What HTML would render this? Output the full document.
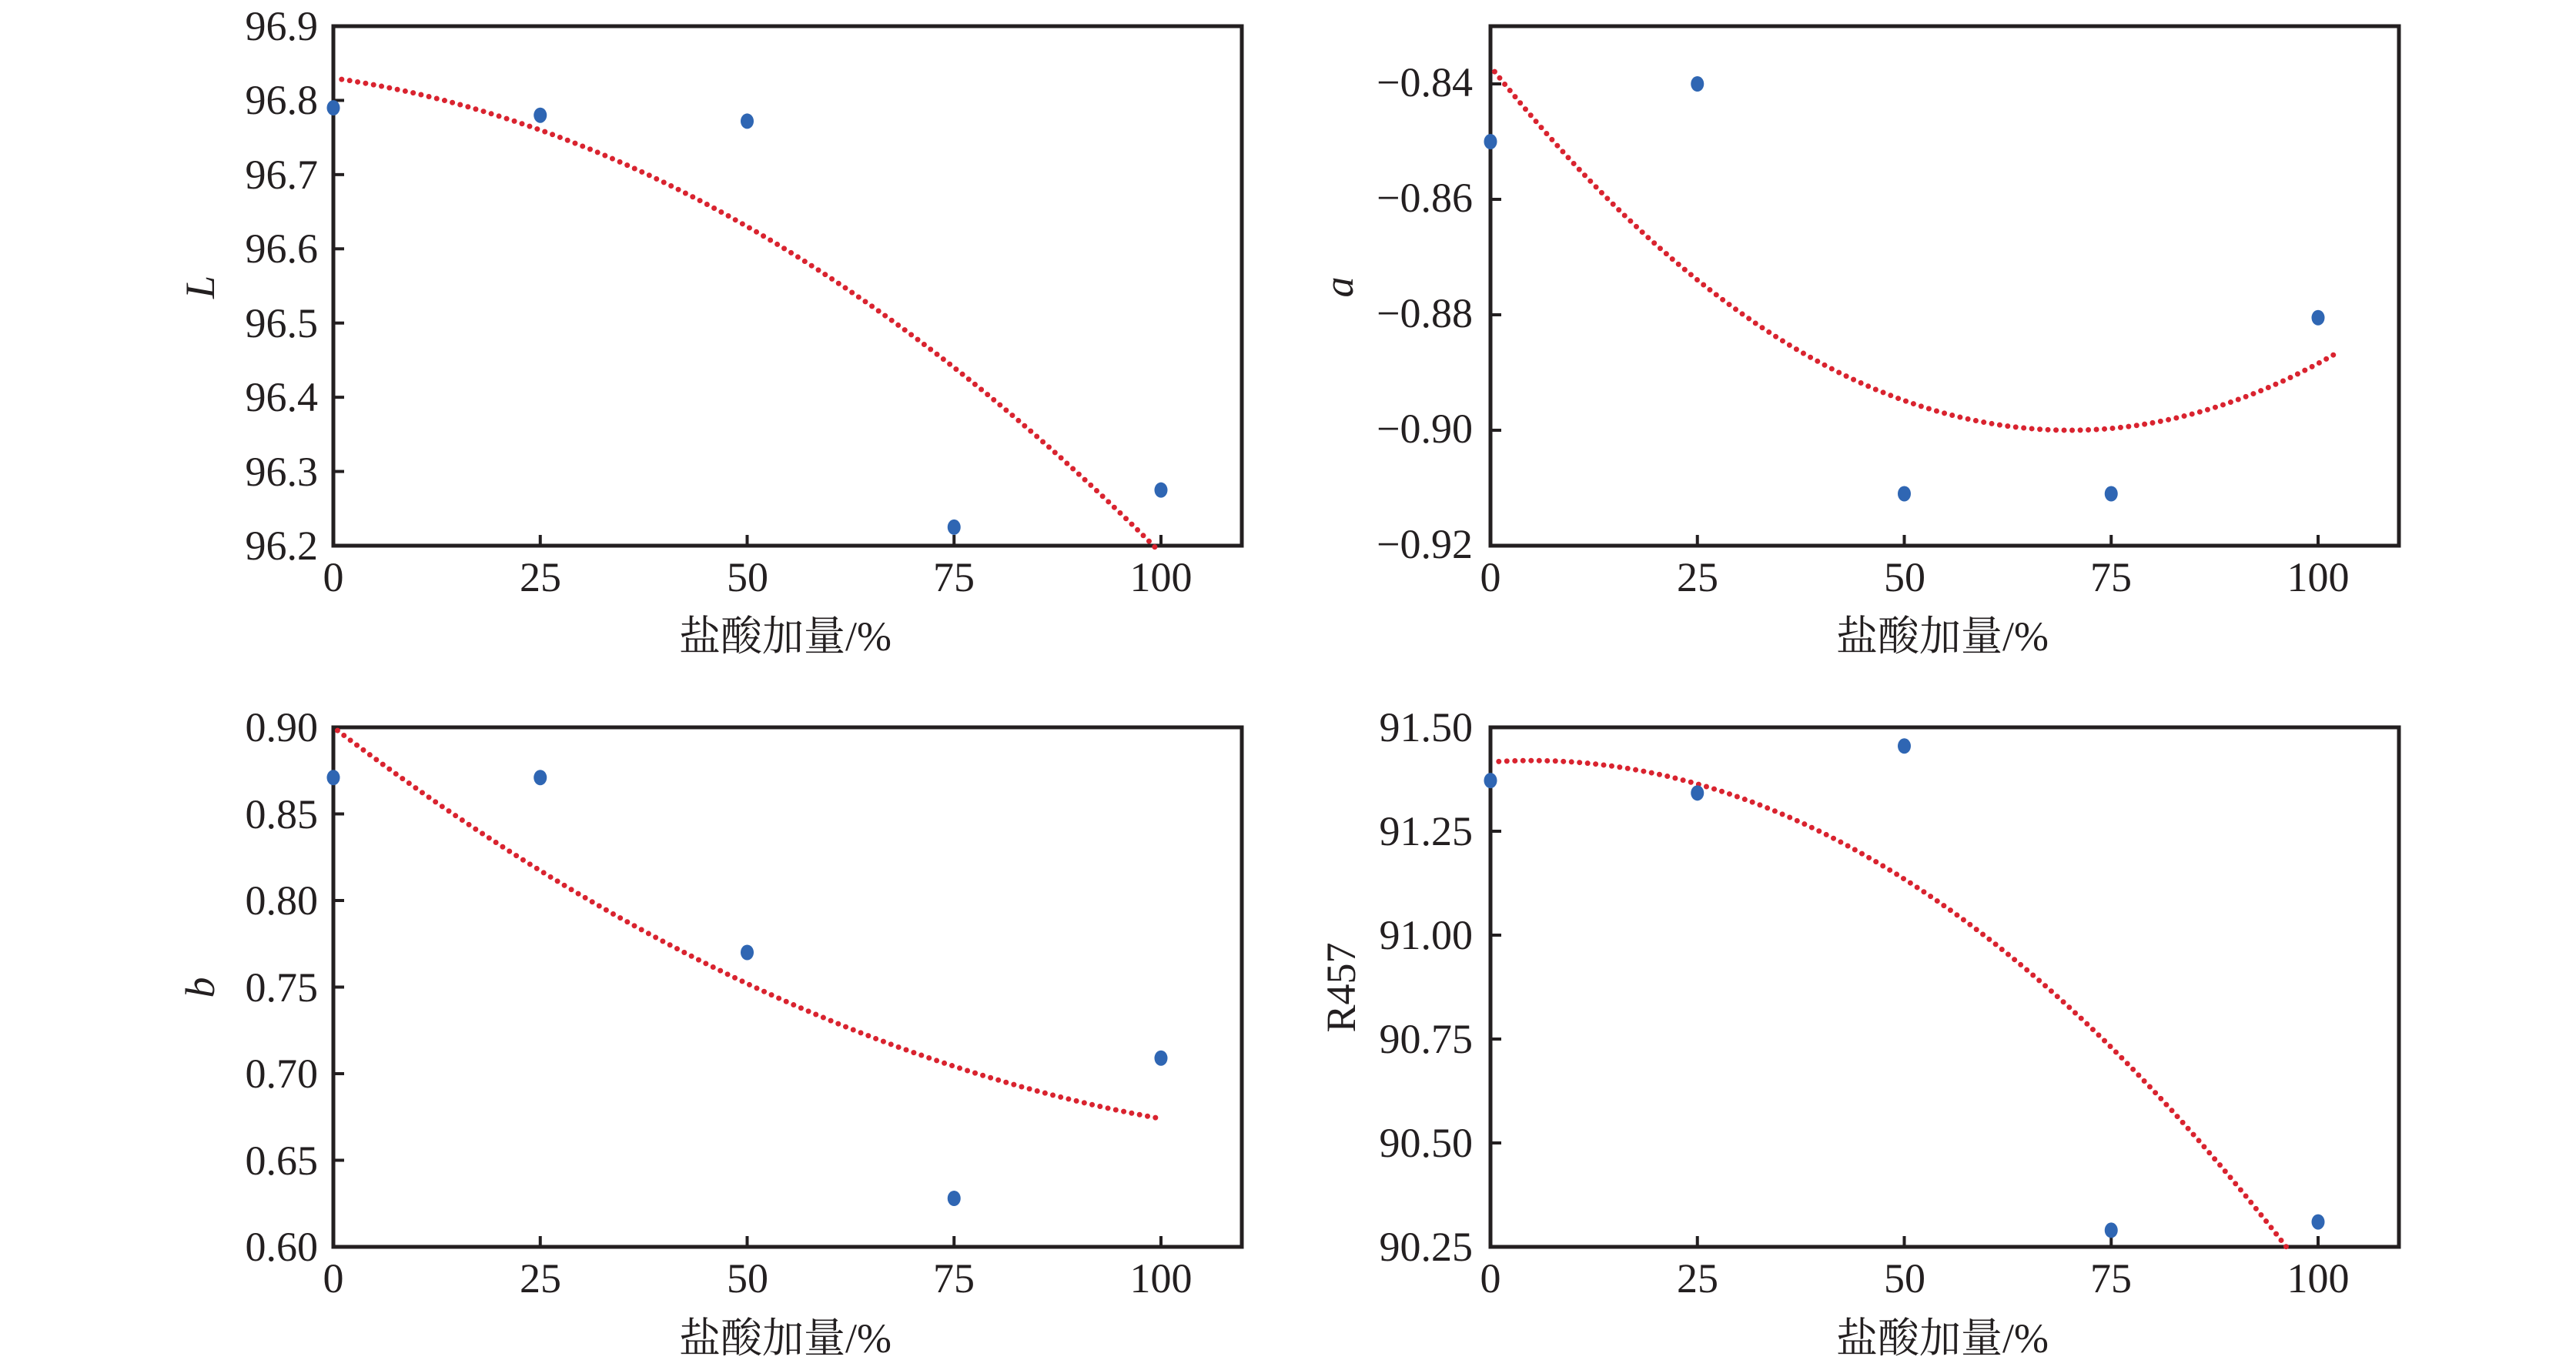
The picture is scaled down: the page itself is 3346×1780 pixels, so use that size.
<!DOCTYPE html>
<html><head><meta charset="utf-8"><style>
html,body{margin:0;padding:0;background:#fff;}
svg{display:block;}
text{font-family:"Liberation Serif","Noto Serif CJK SC",serif;fill:#231f20;}
.t{font-size:54px;}
.ax{font-size:54px;}
</style></head><body>
<svg id="s" width="3346" height="1780" viewBox="0 0 3346 1780" xmlns="http://www.w3.org/2000/svg">
<g fill="none" stroke="#231f20" stroke-width="5">
<rect x="433" y="34" width="1180" height="675"/>
<rect x="1936" y="34" width="1180" height="675"/>
<rect x="433" y="945" width="1180" height="675"/>
<rect x="1936" y="945" width="1180" height="675"/>
</g>
<g id="ticks" stroke="#231f20" stroke-width="4"></g>
<g id="curves" fill="none" stroke="#d9232f" stroke-width="7" stroke-linecap="round" stroke-dasharray="0 10.5"></g>
<g id="pts" fill="#2f66b3"></g>
<g class="t" text-anchor="end">
<text x="413" y="52">96.9</text><text x="413" y="148">96.8</text><text x="413" y="245">96.7</text><text x="413" y="341">96.6</text><text x="413" y="438">96.5</text><text x="413" y="534">96.4</text><text x="413" y="631">96.3</text><text x="413" y="727">96.2</text>
<text x="1913" y="125">−0.84</text><text x="1913" y="275">−0.86</text><text x="1913" y="425">−0.88</text><text x="1913" y="575">−0.90</text><text x="1913" y="725">−0.92</text>
<text x="413" y="963">0.90</text><text x="413" y="1076">0.85</text><text x="413" y="1188">0.80</text><text x="413" y="1301">0.75</text><text x="413" y="1413">0.70</text><text x="413" y="1526">0.65</text><text x="413" y="1638">0.60</text>
<text x="1913" y="963">91.50</text><text x="1913" y="1098">91.25</text><text x="1913" y="1233">91.00</text><text x="1913" y="1368">90.75</text><text x="1913" y="1503">90.50</text><text x="1913" y="1638">90.25</text>
</g>
<g class="t" text-anchor="middle">
<text x="433" y="768">0</text><text x="702" y="768">25</text><text x="971" y="768">50</text><text x="1239" y="768">75</text><text x="1508" y="768">100</text>
<text x="1936" y="768">0</text><text x="2205" y="768">25</text><text x="2474" y="768">50</text><text x="2742" y="768">75</text><text x="3011" y="768">100</text>
<text x="433" y="1679">0</text><text x="702" y="1679">25</text><text x="971" y="1679">50</text><text x="1239" y="1679">75</text><text x="1508" y="1679">100</text>
<text x="1936" y="1679">0</text><text x="2205" y="1679">25</text><text x="2474" y="1679">50</text><text x="2742" y="1679">75</text><text x="3011" y="1679">100</text>
<text x="1020" y="845">盐酸加量/%</text><text x="2523" y="845">盐酸加量/%</text>
<text x="1020" y="1757">盐酸加量/%</text><text x="2523" y="1757">盐酸加量/%</text>
</g>
<text class="ax" font-style="italic" text-anchor="middle" transform="translate(278,373) rotate(-90)">L</text>
<text class="ax" font-style="italic" text-anchor="middle" transform="translate(1757,373) rotate(-90)">a</text>
<text class="ax" font-style="italic" text-anchor="middle" transform="translate(278,1283) rotate(-90)">b</text>
<text class="ax" text-anchor="middle" transform="translate(1760,1283) rotate(-90)">R457</text>
</svg>
<script>
(function(){
var NS="http://www.w3.org/2000/svg";
var P=[
 {x0:433,y0:34,y1:709,top:96.9,bot:96.2,ticks:[96.9,96.8,96.7,96.6,96.5,96.4,96.3,96.2],
  pts:[[0,96.79],[25,96.78],[50,96.772],[75,96.225],[100,96.275]],
  f:function(x){return 96.83-0.0016*x-4.8e-5*x*x;},xa:1,xb:99.5},
 {x0:1936,y0:34,y1:709,top:-0.83,bot:-0.92,ticks:[-0.84,-0.86,-0.88,-0.90,-0.92],
  pts:[[0,-0.85],[25,-0.84],[50,-0.911],[75,-0.911],[100,-0.8805]],
  f:function(x){return -0.9+1.286e-5*(x-70)*(x-70);},xa:0.5,xb:102},
 {x0:433,y0:945,y1:1620,top:0.90,bot:0.60,ticks:[0.9,0.85,0.8,0.75,0.7,0.65,0.6],
  pts:[[0,0.871],[25,0.871],[50,0.77],[75,0.628],[100,0.709]],
  f:function(x){return 0.9-0.00366*x+1.4e-5*x*x;},xa:0.5,xb:100},
 {x0:1936,y0:945,y1:1620,top:91.5,bot:90.25,ticks:[91.5,91.25,91.0,90.75,90.5,90.25],
  pts:[[0,91.372],[25,91.342],[50,91.455],[75,90.29],[100,90.31]],
  f:function(x){return 91.42-1.408e-4*(x-5)*(x-5);},xa:1,xb:96.2}
];
var tk=document.getElementById('ticks'),cv=document.getElementById('curves'),pt=document.getElementById('pts');
P.forEach(function(p){
 var sx=function(x){return p.x0+x*10.75;};
 var sy=function(v){return p.y0+(p.top-v)/(p.top-p.bot)*(p.y1-p.y0);};
 p.ticks.forEach(function(t){var y=sy(t);var l=document.createElementNS(NS,'line');
  l.setAttribute('x1',p.x0);l.setAttribute('x2',p.x0+14);l.setAttribute('y1',y);l.setAttribute('y2',y);tk.appendChild(l);});
 [0,25,50,75,100].forEach(function(t){var x=sx(t);var l=document.createElementNS(NS,'line');
  l.setAttribute('x1',x);l.setAttribute('x2',x);l.setAttribute('y1',p.y1);l.setAttribute('y2',p.y1-14);tk.appendChild(l);});
 var d='';for(var i=0;i<=200;i++){var x=p.xa+(p.xb-p.xa)*i/200;d+=(i?'L':'M')+sx(x).toFixed(1)+' '+sy(p.f(x)).toFixed(1);}
 var pa=document.createElementNS(NS,'path');pa.setAttribute('d',d);cv.appendChild(pa);
 p.pts.forEach(function(q){var e=document.createElementNS(NS,'ellipse');e.setAttribute('cx',sx(q[0]));e.setAttribute('cy',sy(q[1]));
  e.setAttribute('rx',8.5);e.setAttribute('ry',10);pt.appendChild(e);});
});
})();
</script>
</body></html>
